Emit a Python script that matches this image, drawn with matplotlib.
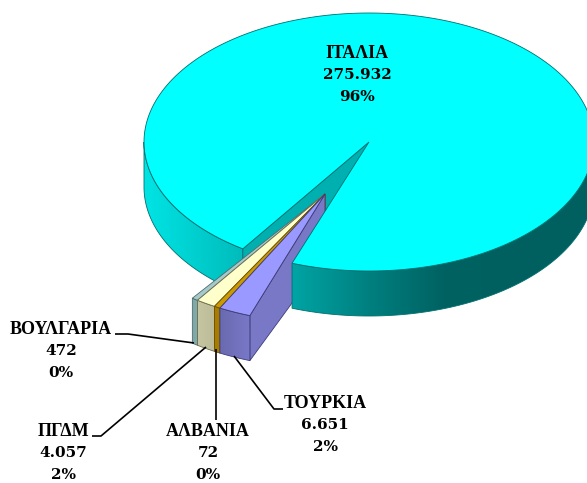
import numpy as np
import matplotlib
matplotlib.use("Agg")
import matplotlib.pyplot as plt
from matplotlib.colors import LinearSegmentedColormap
from matplotlib.patches import Polygon

# data
countries = ["ΙΤΑΛΙΑ", "ΤΟΥΡΚΙΑ", "ΑΛΒΑΝΙΑ", "ΠΓΔΜ", "ΒΟΥΛΓΑΡΙΑ"]
values = [275932, 6651, 72, 4057, 472]
percents = ["96%", "2%", "0%", "2%", "0%"]

# pie geometry, in pixels
cx, cy = 369, 142
rx, ry = 225, 129
depth = 45
gap_start = 20
min_sweep = 1.6
apex = (325, 194)
wall_drop = 64

total = sum(values)
sweeps = [max(v / total * 360, min_sweep) for v in values]

fig = plt.figure(figsize=(5.87, 4.83), dpi=100)
ax = fig.add_axes([0, 0, 1, 1])


def arc(center, t1, t2, n=120):
    t = np.radians(np.linspace(t1, t2, n))
    return np.column_stack([center[0] - rx * np.sin(t), center[1] + ry * np.cos(t)])


def rim(center, t1, t2):
    top = arc(center, t1, t2)
    return np.vstack([top, top[::-1] + [0, depth]])


def fill_poly(pts, color, edge, z, lw=0.6):
    ax.add_patch(Polygon(pts, closed=True, fc=color, ec=edge, lw=lw, zorder=z))


def fill_gradient(pts, colors, edge, z, lw=0.6):
    # horizontal gradient clipped to the polygon
    patch = Polygon(pts, closed=True, fc="none", ec=edge, lw=lw, zorder=z + 0.1)
    ax.add_patch(patch)
    x0, x1 = pts[:, 0].min(), pts[:, 0].max()
    y0, y1 = pts[:, 1].min(), pts[:, 1].max()
    cmap = LinearSegmentedColormap.from_list("g", colors)
    im = ax.imshow(np.linspace(0, 1, 256)[None, :], extent=(x0, x1, y1, y0),
                   aspect="auto", cmap=cmap, zorder=z, interpolation="bilinear")
    im.set_clip_path(patch)


# big slice, back parts
edge_big = "#006f6f"
gap_end = gap_start + (360 - sweeps[0])
center = (cx, cy)
fill_gradient(rim(center, gap_end, 90), ["#00e4e4", "#00d0d0", "#00bcbc"], edge_big, 1)
corner = arc(center, gap_end, gap_end, 1)[0]
inner = np.array([center, corner, corner + [0, depth], [cx, cy + depth]])
fill_poly(inner, "#00b0b0", edge_big, 2)

# small slices pulled out of the pie
slice_tops = ["#9999ff", "#cc9900", "#ffffcc", "#a6caca"]
slice_fronts = [["#6a6ab0", "#7878c8"], ["#a87c00", "#a87c00"],
                ["#c6c6a2", "#bcbc98"], ["#7ea6a6", "#84acac"]]
slice_walls = ["#7878c6", "#8a6800", "#a8a888", "#6e9090"]
slice_edges = ["#3c3c78", "#6a5000", "#6c6c50", "#4c6c6c"]
t = gap_start - 0.5
spans = []
for s in sweeps[1:]:
    spans.append((t, t + s))
    t += s

# painter's order: left slice first
z = 3
for i in [3, 2, 1, 0]:
    t1, t2 = spans[i]
    p1 = arc(apex, t1, t1, 1)[0]
    wall = np.array([apex, p1, p1 + [0, depth], [apex[0], apex[1] + wall_drop]])
    fill_poly(wall, slice_walls[i], slice_edges[i], z)
    fill_gradient(rim(apex, t1, t2), slice_fronts[i], slice_edges[i], z + 1)
    top = np.vstack([[apex], arc(apex, t1, t2, 10)])
    fill_poly(top, slice_tops[i], slice_edges[i], z + 2)
    z += 3

# big slice, front parts
fill_gradient(rim(center, -90, gap_start),
              ["#00a4a4", "#008080", "#006262", "#006060", "#006060"], edge_big, z)
face = np.vstack([[center], arc(center, gap_end, 360 + gap_start, 300)])
fill_poly(face, "#00ffff", edge_big, z + 1)

# labels, one text per line: the digits of the original are wide
label_pos = [(357, 75), (325, 425), (208, 453), (63, 453), (61, 351)]
line_step = 22
for name, v, pct, (lx, ly) in zip(countries, values, percents, label_pos):
    ax.text(lx, ly - line_step, name, ha="center", va="center", family="Liberation Serif",
            fontweight="bold", fontsize=13, zorder=50, color="black")
    ax.text(lx, ly, f"{v:,}".replace(",", "."), ha="center", va="center", family="DejaVu Serif",
            fontweight="bold", fontsize=11, zorder=50, color="black")
    ax.text(lx, ly + line_step, pct, ha="center", va="center", family="DejaVu Serif",
            fontweight="bold", fontsize=11, zorder=50, color="black")

# leader lines
leaders = [[(283, 409), (274, 409), (234, 356)],
           [(216, 420), (216, 349)],
           [(92, 436), (101, 436), (206, 347)],
           [(115, 334), (128, 334), (194, 343)]]
for pts in leaders:
    xs, ys = zip(*pts)
    ax.plot(xs, ys, color="black", lw=1.2, zorder=40, solid_capstyle="butt")

ax.set_xlim(0, 587)
ax.set_ylim(483, 0)
ax.axis("off")

fig.savefig("out.png", dpi=100, facecolor="white")
